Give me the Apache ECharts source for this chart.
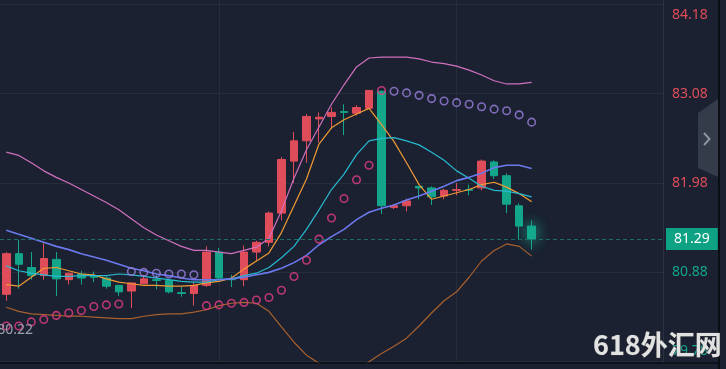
<!DOCTYPE html>
<html><head><meta charset="utf-8">
<script src="https://cdn.jsdelivr.net/npm/echarts@6/dist/echarts.min.js"></script>
<style>html,body{margin:0;padding:0;background:#1b2130;}#c{width:726px;height:369px;}</style>
</head><body><div id="c"></div>
<script>
// ---- data ----
const opens  = [80.61,81.11,80.94,80.84,81.04,80.79,80.86,80.84,80.81,80.72,80.65,80.74,80.79,80.78,80.63,80.62,80.72,81.13,80.80,80.79,81.13,81.25,81.61,82.25,82.50,82.77,82.80,82.86,82.84,82.90,83.11,81.68,81.70,81.94,81.92,81.82,81.89,81.90,81.92,82.24,82.07,81.70,81.45];
const closes = [81.11,80.98,80.84,81.05,80.80,80.87,80.81,80.82,80.71,80.64,80.75,80.80,80.78,80.64,80.62,80.72,81.13,80.81,80.79,81.13,81.25,81.61,82.27,82.50,82.80,82.79,82.85,82.85,82.91,83.12,81.70,81.70,81.76,81.92,81.81,81.89,81.90,81.89,82.25,82.07,81.72,81.45,81.29];
const lows   = [80.53,80.68,80.79,80.79,80.59,80.73,80.73,80.76,80.68,80.59,80.44,80.74,80.67,80.62,80.58,80.47,80.70,80.79,80.70,80.71,81.03,81.20,81.52,81.98,82.23,82.48,82.65,82.57,82.81,82.90,81.60,81.66,81.63,81.78,81.71,81.78,81.83,81.83,81.89,82.03,81.61,81.29,81.16];
const highs  = [81.13,81.28,81.13,81.24,81.13,80.87,80.90,80.89,80.83,80.72,80.75,80.85,80.85,80.79,80.70,80.76,81.20,81.18,80.85,81.21,81.27,81.63,82.30,82.61,82.83,82.85,82.91,82.95,82.94,83.12,83.12,81.72,81.79,81.94,81.94,81.91,81.98,81.96,82.27,82.26,82.10,81.73,81.52];
const ma5    = [80.73,80.71,80.82,80.93,80.94,80.90,80.86,80.85,80.80,80.76,80.74,80.72,80.72,80.71,80.71,80.72,80.75,80.77,80.81,80.92,81.02,81.12,81.37,81.70,82.03,82.46,82.66,82.76,82.83,82.90,82.70,82.49,82.23,81.96,81.78,81.82,81.86,81.90,81.96,81.99,81.93,81.85,81.75];
const ma10   = [80.96,80.90,80.87,80.85,80.83,80.83,80.84,80.84,80.84,80.86,80.85,80.83,80.81,80.79,80.77,80.76,80.76,80.79,80.80,80.84,80.87,80.94,81.06,81.20,81.41,81.65,81.90,82.09,82.33,82.50,82.53,82.54,82.50,82.45,82.36,82.26,82.13,82.04,81.94,81.89,81.88,81.85,81.81];
const ma20   = [81.40,81.35,81.30,81.25,81.20,81.16,81.11,81.07,81.03,80.98,80.93,80.90,80.86,80.84,80.81,80.79,80.79,80.79,80.80,80.82,80.85,80.88,80.93,81.00,81.09,81.22,81.32,81.41,81.53,81.62,81.67,81.71,81.77,81.82,81.88,81.94,82.01,82.05,82.10,82.17,82.20,82.20,82.16];
const bollUp = [82.36,82.32,82.23,82.13,82.05,81.98,81.90,81.82,81.74,81.65,81.54,81.43,81.34,81.27,81.20,81.15,81.15,81.13,81.11,81.15,81.19,81.30,81.64,82.04,82.39,82.67,82.95,83.19,83.41,83.52,83.53,83.53,83.53,83.51,83.47,83.45,83.42,83.37,83.31,83.24,83.20,83.20,83.22];
const bollDn = [80.45,80.40,80.37,80.36,80.35,80.34,80.34,80.33,80.32,80.31,80.31,80.34,80.36,80.37,80.37,80.39,80.42,80.47,80.50,80.51,80.50,80.40,80.21,80.02,79.86,79.76,79.68,79.63,79.64,79.78,79.88,79.97,80.07,80.22,80.38,80.53,80.64,80.82,81.02,81.15,81.23,81.20,81.08];
const sar    = [80.22,80.22,80.27,80.30,80.35,80.38,80.41,80.46,80.48,80.49,80.89,80.88,80.87,80.86,80.86,80.85,80.47,80.48,80.50,80.51,80.54,80.57,80.66,80.83,81.03,81.29,81.55,81.79,82.02,82.20,83.12,83.11,83.09,83.06,83.02,82.99,82.97,82.95,82.92,82.89,82.87,82.82,82.73];
const yTicks = [79.78, 80.88, 81.98, 83.08, 84.18];
const lastPrice = 81.29;
const lowLabel = '80.22';
const timeMarks = [17, 36];
const emptySlots = 10;
const candleLabels = closes.map((_, i) => String(i + 1));
const categories = candleLabels.concat(new Array(emptySlots).fill(''));

// ---- styles ----
const RED = '#e04d5a', GREEN = '#13a68b';
const chart = echarts.init(document.getElementById('c'), null, {renderer: 'canvas'});
const kData = opens.map((o, i) => {
  const item = {value: [o, closes[i], lows[i], highs[i]]};
  if (i === opens.length - 1) item.itemStyle = {shadowBlur: 14, shadowColor: 'rgba(30,220,180,0.75)'};
  return item;
});
const sarAbove = sar.map((v, i) => v > highs[i] ? v : '-');
const sarBelow = sar.map((v, i) => v > highs[i] ? '-' : v);
const lineS = (name, data, color, w) => ({
  name, type: 'line', data, symbol: 'none', smooth: false, z: 3,
  lineStyle: {color, width: w}, silent: true
});
const dot = (name, data, color) => ({
  name, type: 'scatter', data, symbol: 'circle', symbolSize: 7.5, z: 4, silent: true,
  itemStyle: {color: 'rgba(0,0,0,0)', borderColor: color, borderWidth: 1.6}
});
const yMinT = yTicks[0], yMaxT = yTicks[yTicks.length - 1];
chart.setOption({
  animation: false,
  backgroundColor: '#1b2130',
  grid: {left: -2, right: 63, top: 0, bottom: 6},
  xAxis: {
    type: 'category', data: categories, boundaryGap: true,
    axisLine: {show: false}, axisTick: {show: false}, axisLabel: {show: false},
    splitLine: {show: true, alignWithLabel: true, interval: (i) => timeMarks.indexOf(i) >= 0,
      lineStyle: {color: '#262e3c', width: 1}}
  },
  yAxis: {
    type: 'value', position: 'right', min: 79.764, max: 84.234, scale: true,
    axisLine: {show: true, lineStyle: {color: '#2b3343'}},
    axisTick: {show: false, customValues: yTicks},
    splitLine: {show: true, lineStyle: {color: '#262e3c', width: 1}},
    axisLabel: {
      customValues: yTicks, margin: 9, fontSize: 14, fontFamily: 'Noto Sans',
      color: (v) => (Number(v) > lastPrice ? RED : GREEN),
      formatter: (v) => {
        const s = Number(v).toFixed(2);
        if (Math.abs(v - yMaxT) < 1e-6) return '{t|' + s + '}';
        if (Math.abs(v - yMinT) < 1e-6) return '{b|' + s + '}';
        return s;
      },
      rich: {
        t: {padding: [22, 0, 0, 0], color: RED, fontSize: 14, fontFamily: 'Noto Sans'},
        b: {padding: [0, 0, 22, 0], color: GREEN, fontSize: 14, fontFamily: 'Noto Sans'}
      }
    }
  },
  series: [
    {
      name: 'K', type: 'candlestick', data: kData, barWidth: 8, z: 2,
      itemStyle: {color: RED, color0: GREEN, borderColor: RED, borderColor0: GREEN, borderWidth: 1},
      markLine: {
        silent: true, symbol: ['none', 'none'], animation: false,
        data: [{yAxis: lastPrice}],
        lineStyle: {color: '#1d6f61', type: [4, 3], width: 1},
        label: {
          position: 'end', distance: 3, formatter: lastPrice.toFixed(2),
          color: '#ffffff', backgroundColor: '#0ea284', fontSize: 14, fontFamily: 'Noto Sans',
          padding: [3, 8, 3, 8], lineHeight: 16
        }
      }
    },
    lineS('MA5', ma5, '#f09a35', 1.2),
    lineS('MA10', ma10, '#26b9d0', 1.2),
    lineS('MA20', ma20, '#6b79ee', 1.6),
    lineS('UP', bollUp, '#cf70bf', 1.2),
    lineS('DN', bollDn, '#a8602e', 1.2),
    dot('SAR-below', sarBelow, '#e33d84'),
    dot('SAR-above', sarAbove, '#9b80e0')
  ],
  graphic: [
    {type: 'line', shape: {x1: 0, y1: 363, x2: 719, y2: 363}, style: {stroke: '#0b0e14', lineWidth: 1.5}, z: 50},
    {type: 'line', shape: {x1: 719, y1: 0, x2: 719, y2: 369}, style: {stroke: '#0b0e14', lineWidth: 2}, z: 50},
    {type: 'polygon', shape: {points: [[698, 113], [718, 99], [718, 177], [698, 168]]}, style: {fill: '#343b49'}, z: 50},
    {type: 'polyline', shape: {points: [[704, 133], [709.5, 139], [704, 145]]}, style: {stroke: '#8d93a0', lineWidth: 2, fill: null}, z: 51},
    {type: 'text', x: 33, y: 330, style: {text: lowLabel, fill: '#9aa0aa', fontSize: 14, fontFamily: 'Noto Sans', align: 'right', verticalAlign: 'middle'}, z: 50},
    {type: 'text', x: 593, y: 345, style: {text: '618外汇网', fill: '#e2e2e2', fontSize: 27, fontWeight: 'bold', fontFamily: 'Noto Sans CJK SC', align: 'left', verticalAlign: 'middle', stroke: '#555', lineWidth: 0.5}, z: 60}
  ]
});
</script></body></html>
